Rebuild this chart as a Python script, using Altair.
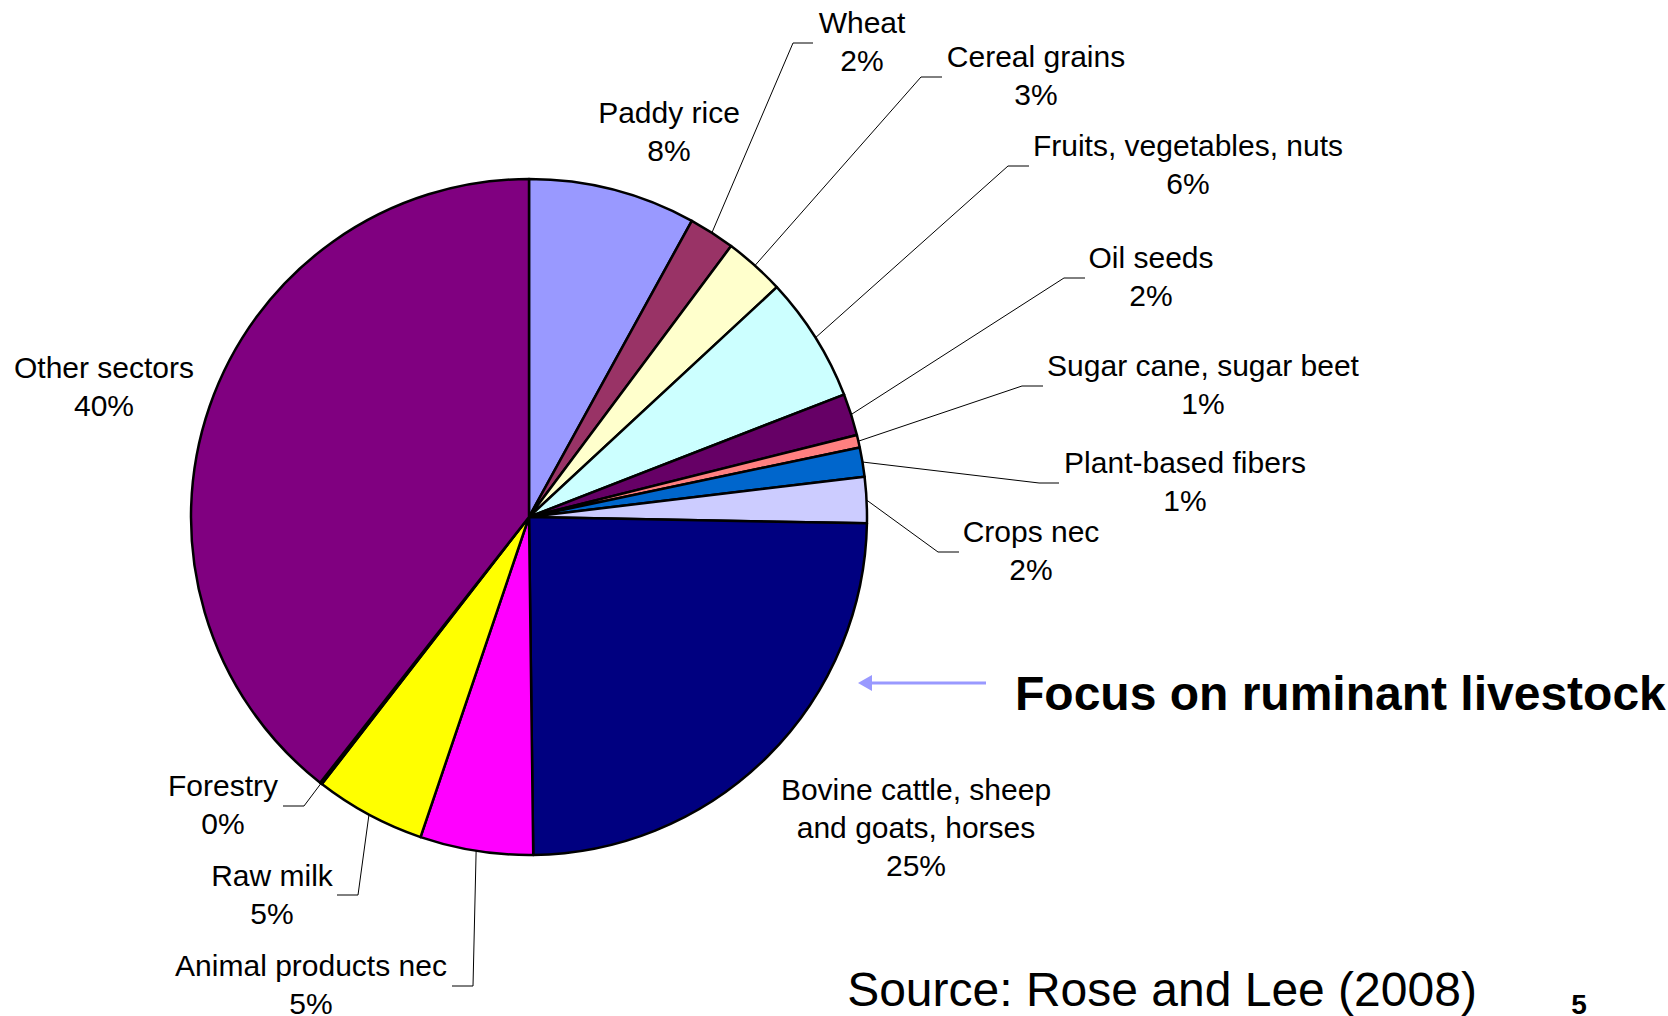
import altair as alt
import pandas as pd

# ---------------- data ----------------
sectors = [
    "Paddy rice", "Wheat", "Cereal grains", "Fruits, vegetables, nuts",
    "Oil seeds", "Sugar cane, sugar beet", "Plant-based fibers", "Crops nec",
    "Bovine cattle, sheep and goats, horses", "Animal products nec",
    "Raw milk", "Forestry", "Other sectors",
]
shares = [8.0, 2.2, 2.9, 6.0, 2.0, 0.6, 1.4, 2.2, 24.5, 5.4, 5.3, 0.1, 39.4]
pct_labels = ["8%", "2%", "3%", "6%", "2%", "1%", "1%", "2%", "25%", "5%", "5%", "0%", "40%"]
label_lines = [
    ["Paddy rice"], ["Wheat"], ["Cereal grains"], ["Fruits, vegetables, nuts"],
    ["Oil seeds"], ["Sugar cane, sugar beet"], ["Plant-based fibers"], ["Crops nec"],
    ["Bovine cattle, sheep", "and goats, horses"], ["Animal products nec"],
    ["Raw milk"], ["Forestry"], ["Other sectors"],
]
colors = [
    "#9999FF", "#993366", "#FFFFCC", "#CCFFFF", "#660066", "#FF8080", "#0066CC",
    "#CCCCFF", "#000080", "#FF00FF", "#FFFF00", "#00FFFF", "#800080",
]
focus_text = "Focus on ruminant livestock"
source_text = "Source: Rose and Lee (2008)"
page_text = "5"

# ---------------- layout ----------------
W, H = 1668, 1016
CX, CY, R = 529, 517, 338
LINE_H = 38
FONT = "Liberation Sans"
LABEL_POS = {  # centre x, y of first text line
    "Paddy rice": (669, 114), "Wheat": (862, 24), "Cereal grains": (1036, 58),
    "Fruits, vegetables, nuts": (1188, 147), "Oil seeds": (1151, 259),
    "Sugar cane, sugar beet": (1203, 367), "Plant-based fibers": (1185, 464),
    "Crops nec": (1031, 533), "Bovine cattle, sheep and goats, horses": (916, 791),
    "Animal products nec": (311, 967), "Raw milk": (272, 877),
    "Forestry": (223, 787), "Other sectors": (104, 369),
}
LEADERS = {  # elbow x, elbow y, end x, end y
    "Wheat": (793, 43, 813, 43), "Cereal grains": (921, 77, 942, 77),
    "Fruits, vegetables, nuts": (1008, 166, 1029, 166), "Oil seeds": (1064, 278, 1085, 278),
    "Sugar cane, sugar beet": (1022, 386, 1043, 386), "Plant-based fibers": (1039, 483, 1059, 483),
    "Crops nec": (938, 552, 959, 552), "Forestry": (304, 806, 283, 806),
    "Raw milk": (358, 895, 337, 895), "Animal products nec": (473, 986, 452, 986),
}
FOCUS_POS = (1015, 710)
SOURCE_POS = (1162, 1006)
PAGE_POS = (1579, 1014)
ARROW = (986, 868, 683)  # shaft start x, shaft end x, y
ARROW_HEAD = (865, 683)

xs = alt.Scale(domain=[0, W], range=[0, W], nice=False, zero=False)
ys = alt.Scale(domain=[0, H], range=[0, H], nice=False, zero=False)

# ---------------- tables ----------------
pie_df = pd.DataFrame({"sector": sectors, "share": shares, "idx": list(range(len(sectors)))})
pie_df["ex"] = [LEADERS[s][0] if s in LEADERS else None for s in sectors]
pie_df["ey"] = [LEADERS[s][1] if s in LEADERS else None for s in sectors]
pie_df["tx"] = [LEADERS[s][2] if s in LEADERS else None for s in sectors]
pie_df["ty"] = [LEADERS[s][3] if s in LEADERS else None for s in sectors]

rows = []
for s, lines, pct in zip(sectors, label_lines, pct_labels):
    x0, y0 = LABEL_POS[s]
    for i, t in enumerate(lines + [pct]):
        rows.append({"text": t, "lx": x0, "ly": y0 + i * LINE_H})
lab_df = pd.DataFrame(rows)

# ---------------- layers ----------------
pie = alt.Chart(pie_df).mark_arc(
    radius=R, stroke="black", strokeWidth=2.5, strokeJoin="round"
).encode(
    theta=alt.Theta("share:Q", stack=True),
    color=alt.Color("sector:N", scale=alt.Scale(domain=sectors, range=colors), legend=None),
    order=alt.Order("idx:Q", sort="ascending"),
    x=alt.value(CX),
    y=alt.value(CY),
)

lead_base = alt.Chart(pie_df).transform_joinaggregate(
    total="sum(share)"
).transform_window(
    cum="sum(share)", sort=[alt.SortField("idx")], frame=[None, 0]
).transform_calculate(
    ang="(datum.cum - datum.share / 2) / datum.total * 2 * PI",
    sx=f"{CX} + {R} * sin(datum.ang)",
    sy=f"{CY} - {R} * cos(datum.ang)",
).transform_filter("isValid(datum.ex)")

seg1 = lead_base.mark_rule(color="black", strokeWidth=1).encode(
    x=alt.X("sx:Q", scale=xs, axis=None), y=alt.Y("sy:Q", scale=ys, axis=None),
    x2="ex:Q", y2="ey:Q",
)
seg2 = lead_base.mark_rule(color="black", strokeWidth=1).encode(
    x=alt.X("ex:Q", scale=xs, axis=None), y=alt.Y("ey:Q", scale=ys, axis=None),
    x2="tx:Q", y2="ty:Q",
)

labels = alt.Chart(lab_df).mark_text(
    font=FONT, fontSize=30, color="black", align="center", baseline="middle"
).encode(
    x=alt.X("lx:Q", scale=xs, axis=None), y=alt.Y("ly:Q", scale=ys, axis=None), text="text:N"
)

ann = lambda txt, pos: pd.DataFrame({"text": [txt], "ax": [pos[0]], "ay": [pos[1]]})

focus = alt.Chart(ann(focus_text, FOCUS_POS)).mark_text(
    font=FONT, fontSize=48, fontWeight="bold", color="black", align="left", baseline="alphabetic"
).encode(x=alt.X("ax:Q", scale=xs, axis=None), y=alt.Y("ay:Q", scale=ys, axis=None), text="text:N")

source = alt.Chart(ann(source_text, SOURCE_POS)).mark_text(
    font=FONT, fontSize=48, color="black", align="center", baseline="alphabetic"
).encode(x=alt.X("ax:Q", scale=xs, axis=None), y=alt.Y("ay:Q", scale=ys, axis=None), text="text:N")

page = alt.Chart(ann(page_text, PAGE_POS)).mark_text(
    font=FONT, fontSize=28, fontWeight="bold", color="black", align="center", baseline="alphabetic"
).encode(x=alt.X("ax:Q", scale=xs, axis=None), y=alt.Y("ay:Q", scale=ys, axis=None), text="text:N")

arrow_df = pd.DataFrame({"x1": [ARROW[0]], "x2": [ARROW[1]], "y": [ARROW[2]],
                         "hx": [ARROW_HEAD[0]], "hy": [ARROW_HEAD[1]]})
shaft = alt.Chart(arrow_df).mark_rule(color="#9999FF", strokeWidth=3).encode(
    x=alt.X("x1:Q", scale=xs, axis=None), x2="x2:Q", y=alt.Y("y:Q", scale=ys, axis=None)
)
head = alt.Chart(arrow_df).mark_point(
    shape="triangle-left", filled=True, color="#9999FF", opacity=1, size=260
).encode(x=alt.X("hx:Q", scale=xs, axis=None), y=alt.Y("hy:Q", scale=ys, axis=None))

chart = alt.layer(pie, seg1, seg2, labels, focus, source, page, shaft, head).properties(
    width=W, height=H, autosize=alt.AutoSizeParams(type="none"), padding=0, background="white"
).configure_view(stroke=None)

chart.save("out.html", embed_options={"renderer": "svg", "actions": False})
